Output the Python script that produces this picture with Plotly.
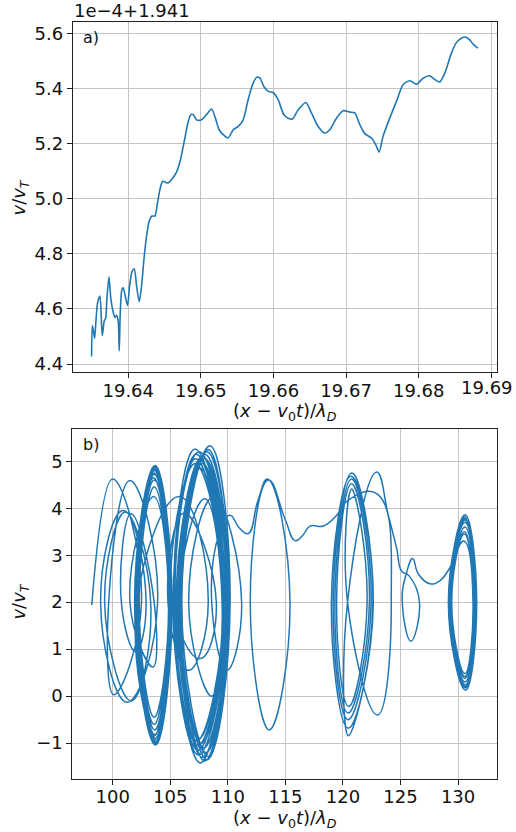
import plotly.graph_objects as go

# ---------------- panel a) data (values shown in units of 1e-4, offset 1.941) -------------
xa = [19.63495, 19.63505, 19.63518, 19.63537, 19.63555, 19.63578, 19.63610, 19.63642,
      19.63670, 19.63688, 19.63706, 19.63734, 19.63761, 19.63794, 19.63817, 19.63839,
      19.63862, 19.63876, 19.63890, 19.63913, 19.63931, 19.63963, 19.63991, 19.64018,
      19.64055, 19.64083, 19.64115, 19.64151, 19.64183, 19.64216, 19.64252, 19.64289,
      19.64326, 19.64367, 19.64404, 19.64436, 19.64472, 19.64509, 19.64550, 19.64596,
      19.64665, 19.64720, 19.64780, 19.64826, 19.64862, 19.64894, 19.64940, 19.65009,
      19.65078, 19.65147, 19.65197, 19.65252, 19.65307, 19.65376, 19.65445, 19.65514,
      19.65583, 19.65651, 19.65711, 19.65766, 19.65812, 19.65867, 19.65927, 19.65995,
      19.66064, 19.66142, 19.66202, 19.66261, 19.66339, 19.66445, 19.66523, 19.66615,
      19.66706, 19.66775, 19.66867, 19.66959, 19.67050, 19.67119, 19.67188, 19.67257,
      19.67349, 19.67408, 19.67454, 19.67509, 19.67601, 19.67693, 19.67784, 19.67876,
      19.67968, 19.68060, 19.68151, 19.68229, 19.68289, 19.68358, 19.68450, 19.68518,
      19.68587, 19.68647, 19.68702, 19.68757, 19.68817]
ya = [4.428, 4.539, 4.525, 4.493, 4.557, 4.623, 4.647, 4.503,
      4.557, 4.565, 4.635, 4.717, 4.635, 4.587, 4.569, 4.577,
      4.555, 4.448, 4.587, 4.671, 4.677, 4.641, 4.613, 4.683,
      4.738, 4.746, 4.683, 4.626, 4.683, 4.780, 4.864, 4.919,
      4.937, 4.937, 4.987, 5.033, 5.063, 5.060, 5.057, 5.069,
      5.096, 5.142, 5.220, 5.280, 5.305, 5.305, 5.286, 5.286,
      5.305, 5.325, 5.295, 5.250, 5.232, 5.220, 5.250, 5.262,
      5.286, 5.359, 5.413, 5.440, 5.438, 5.407, 5.389, 5.385,
      5.359, 5.305, 5.292, 5.289, 5.322, 5.349, 5.311, 5.262,
      5.238, 5.250, 5.292, 5.319, 5.314, 5.311, 5.269, 5.236,
      5.220, 5.196, 5.169, 5.226, 5.292, 5.353, 5.413, 5.428,
      5.415, 5.437, 5.446, 5.431, 5.423, 5.455, 5.528, 5.566,
      5.582, 5.586, 5.576, 5.558, 5.546]
a_offset_label = "1e\u22124+1.941"
a_xticks = [19.64, 19.65, 19.66, 19.67, 19.68, 19.69]
a_yticks = [4.4, 4.6, 4.8, 5.0, 5.2, 5.4, 5.6]

# ---------------- panel b) data: phase-space trajectory ------
b_start = [(98.18, 1.94)]
b_region1 = [
    (100.0, 4.62), (102.5, 2.0), (100.1, 0.03), (99.65, 2.0),
    (101.5, 4.59), (103.9, 2.0), (101.25, -0.13), (98.95, 2.0),
    (100.9, 3.95), (103.3, 2.0), (101.6, -0.1), (99.3, 2.0),
    (101.1, 3.92), (102.9, 2.0), (102.0, 0.95), (100.75, 2.0),
    (101.6, 3.88), (103.6, 2.0), (103.5, 0.62), (101.5, 2.0),
]
b_cluster1 = [
    (103.55, 4.25), (104.85, 2.0), (103.6, -0.45), (102.3, 2.0),
    (103.6, 4.45), (104.9, 2.0), (103.6, -0.6), (102.2, 2.0),
    (103.6, 4.6), (104.95, 2.0), (103.65, -0.72), (102.15, 2.0),
    (103.62, 4.72), (105.0, 2.0), (103.65, -0.82), (102.1, 2.0),
    (103.63, 4.8), (105.05, 2.0), (103.7, -0.9), (102.05, 2.0),
    (103.65, 4.86), (105.1, 2.0), (103.7, -0.96), (102.0, 2.0),
    (103.65, 4.9), (105.15, 2.0), (103.7, -1.0), (101.95, 2.0),
    (103.68, 4.91), (105.15, 2.0), (103.72, -1.04), (101.9, 2.0),
    (103.65, 4.88), (105.1, 2.0), (103.7, -1.02), (101.95, 2.0),
    (103.6, 4.83), (105.05, 2.0), (103.68, -0.98), (102.0, 2.0),
    (103.6, 4.75), (105.0, 2.0), (103.65, -0.92), (102.05, 2.0),
    (103.55, 4.65), (104.95, 2.0), (103.6, -0.85), (102.1, 2.0),
    (105.8, 4.25), (108.3, 2.0), (106.6, 0.55), (104.8, 2.0),
    (106.2, 3.9), (109.0, 2.0), (107.6, 0.8), (105.2, 2.0),
]
b_cluster2 = [
    (107.15, 4.95), (109.6, 2.0), (107.3, -0.95), (105.4, 2.0),
    (107.2, 5.05), (109.7, 2.0), (107.4, -1.05), (105.35, 2.0),
    (107.25, 5.15), (109.8, 2.0), (107.4, -1.15), (105.3, 2.0),
    (107.15, 5.26), (109.9, 2.0), (107.45, -1.25), (105.25, 2.0),
    (107.5, 5.2), (110.0, 2.0), (107.6, -1.42), (105.5, 2.0),
    (107.8, 5.1), (110.05, 2.0), (107.8, -1.3), (105.6, 2.0),
    (108.0, 5.15), (110.1, 2.0), (108.0, -1.38), (105.8, 2.0),
    (108.2, 5.2), (110.15, 2.0), (108.2, -1.35), (105.9, 2.0),
    (108.45, 5.33), (110.2, 2.0), (108.3, -1.28), (106.0, 2.0),
    (108.3, 5.25), (110.1, 2.0), (108.1, -1.2), (105.8, 2.0),
    (108.0, 5.05), (110.0, 2.0), (107.9, -1.1), (105.7, 2.0),
    (107.8, 4.95), (109.8, 2.0), (107.7, -1.0), (105.6, 2.0),
    (107.6, 4.85), (109.6, 2.0), (107.5, -0.9), (105.7, 2.0),
    (108.0, 4.2), (109.5, 2.0), (108.6, 0.0), (106.6, 2.0),
    (108.75, 4.24), (111.2, 2.0), (109.9, 0.55), (108.6, 2.0),
    (109.3, 3.5), (110.19, 3.85), (111.0, 3.58), (111.78, 3.46), (112.6, 4.15),
]
b_region3 = [
    (113.45, 4.62), (115.4, 2.0), (113.6, -0.72), (111.95, 2.0),
    (113.55, 4.6), (115.0, 3.75), (115.84, 3.31), (116.5, 3.42),
    (117.14, 3.62), (118.3, 3.62), (119.46, 3.85),
]
b_region4 = [
    (120.4, 4.16), (122.94, 4.31), (124.2, 2.0), (123.0, -0.4), (120.4, 2.0),
    (120.75, 4.41), (122.1, 2.0), (120.5, -0.22), (119.45, 2.0),
    (120.75, 4.52), (122.3, 2.0), (120.45, -0.36), (119.3, 2.0),
    (120.75, 4.62), (122.45, 2.0), (120.45, -0.5), (119.15, 2.0),
    (120.77, 4.75), (122.6, 2.0), (120.47, -0.68), (119.0, 2.0),
    (120.7, 4.68), (122.64, 2.0), (120.47, -0.84), (120.4, 2.0),
    (122.94, 4.77), (123.94, 3.85), (124.67, 3.14), (125.1, 2.66),
]
b_region5 = [
    (125.75, 2.56), (126.65, 2.0), (125.9, 1.17), (125.15, 2.0), (125.5, 2.6),
    (126.06, 2.93), (126.55, 2.6), (127.57, 2.39), (128.44, 2.46), (129.16, 2.68),
    (130.5, 3.3), (131.3, 2.0), (130.6, 0.48), (129.45, 2.0),
    (130.55, 3.45), (131.38, 2.0), (130.6, 0.42), (129.42, 2.0),
    (130.55, 3.5), (131.4, 2.0), (130.6, 0.38), (129.4, 2.0),
    (130.6, 3.6), (131.5, 2.0), (130.6, 0.3), (129.3, 2.0),
    (130.6, 3.7), (131.55, 2.0), (130.62, 0.24), (129.25, 2.0),
    (130.6, 3.75), (131.58, 2.0), (130.63, 0.2), (129.22, 2.0),
    (130.6, 3.78), (131.6, 2.0), (130.65, 0.18), (129.2, 2.0),
    (130.61, 3.86), (131.62, 2.0), (130.65, 0.13), (129.16, 2.0),
    (130.6, 3.82), (131.39, 2.43),
]
b_points = b_start + b_region1 + b_cluster1 + b_cluster2 + b_region3 + b_region4 + b_region5
xb = [p[0] for p in b_points]
yb = [p[1] for p in b_points]
b_xticks = [100, 105, 110, 115, 120, 125, 130]
b_yticks = [-1, 0, 1, 2, 3, 4, 5]

# ---------------- figure ----------------
W, H = 516, 832
BLUE = "#1f77b4"
FONT = "DejaVu Sans"
TICKSIZE = 18

fig = go.Figure()
fig.add_trace(go.Scatter(x=xa, y=ya, mode="lines", xaxis="x", yaxis="y",
                         line=dict(color=BLUE, width=1.6, shape="spline", smoothing=0.7),
                         showlegend=False, hoverinfo="skip"))
fig.add_trace(go.Scatter(x=xb, y=yb, mode="lines", xaxis="x2", yaxis="y2",
                         line=dict(color=BLUE, width=1.5, shape="spline", smoothing=1.3),
                         showlegend=False, hoverinfo="skip"))

def px2fx(px):
    return px / W

def py2fy(py):
    return 1 - py / H

axis_common = dict(showgrid=True, gridcolor="#c4c4c4", gridwidth=1,
                   showline=True, linecolor="#222222", linewidth=1, mirror=True,
                   ticks="outside", ticklen=5, tickwidth=1, tickcolor="#222222",
                   zeroline=False,
                   tickfont=dict(family=FONT, size=TICKSIZE, color="#111111"))

# the last top-axis label sits at the page edge: drawn as a right-anchored text instead
a_ticktext = [f"{v:.2f}" for v in a_xticks[:-1]] + [""]

fig.update_layout(
    width=W, height=H,
    margin=dict(l=0, r=0, t=0, b=0),
    paper_bgcolor="white", plot_bgcolor="white",
    xaxis=dict(domain=[px2fx(72.7), px2fx(497)], range=[19.63235, 19.69078],
               tickvals=a_xticks, ticktext=a_ticktext, ticklabelstandoff=-3,
               anchor="y", **axis_common),
    yaxis=dict(domain=[py2fy(373), py2fy(22)], range=[4.371, 5.641],
               tickvals=a_yticks, ticktext=[f"{v:.1f}" for v in a_yticks],
               anchor="x", **axis_common),
    xaxis2=dict(domain=[px2fx(72.3), px2fx(497.3)], range=[96.49, 133.41],
                tickvals=b_xticks, ticktext=[str(v) for v in b_xticks],
                ticklabelstandoff=-4,
                anchor="y2", **axis_common),
    yaxis2=dict(domain=[py2fy(781), py2fy(430)], range=[-1.765, 5.686],
                tickvals=b_yticks, ticktext=[("\u2212" + str(-v)) if v < 0 else str(v) for v in b_yticks],
                anchor="x2", **axis_common),
    font=dict(family=FONT, color="#111111"),
)

xlabel = "(<i>x</i> \u2212 <i>v</i><sub>0</sub><i>t</i>)/<i>\u03bb</i><sub><i>D</i></sub>"
ylabel = "<i>v</i>/<i>v</i><sub><i>T</i></sub>"

annots = [
    dict(text=a_offset_label, x=px2fx(72), y=py2fy(11), xanchor="left", yanchor="middle",
         font=dict(size=18)),
    dict(text="a)", x=px2fx(81), y=py2fy(38), xanchor="left", yanchor="middle",
         font=dict(size=16)),
    dict(text="b)", x=px2fx(81), y=py2fy(446), xanchor="left", yanchor="middle",
         font=dict(size=16)),
    dict(text=f"{a_xticks[-1]:.2f}", x=px2fx(515), y=py2fy(388), xanchor="right",
         yanchor="middle", font=dict(size=TICKSIZE)),
    dict(text=xlabel, x=px2fx(285), y=py2fy(413), xanchor="center", yanchor="middle",
         font=dict(size=18)),
    dict(text=xlabel, x=px2fx(285), y=py2fy(821), xanchor="center", yanchor="middle",
         font=dict(size=18)),
    dict(text=ylabel, x=px2fx(20), y=py2fy(198), xanchor="center", yanchor="middle",
         textangle=-90, font=dict(size=18)),
    dict(text=ylabel, x=px2fx(20), y=py2fy(603), xanchor="center", yanchor="middle",
         textangle=-90, font=dict(size=18)),
]
for a in annots:
    a.update(xref="paper", yref="paper", showarrow=False)
fig.update_layout(annotations=annots)

fig.write_html("out.html")
